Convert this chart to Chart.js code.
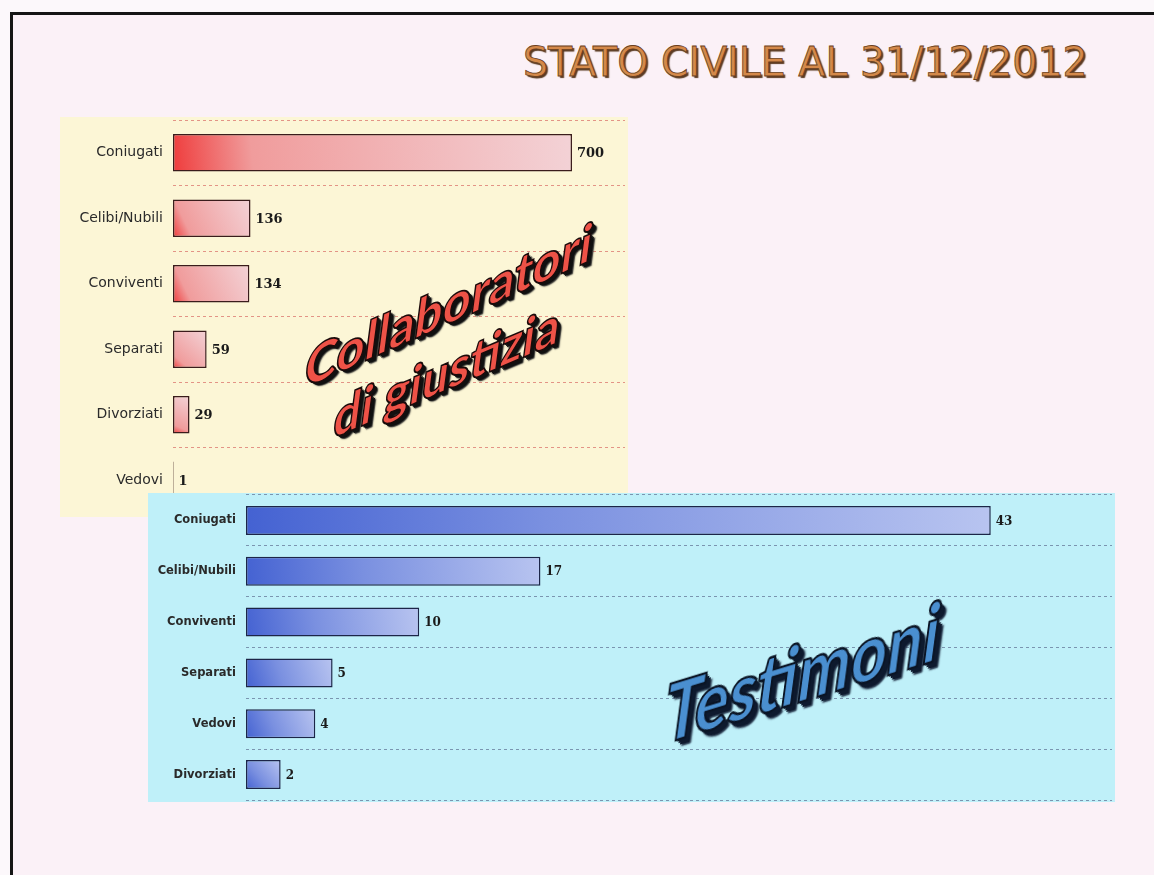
<!DOCTYPE html>
<html>
<head>
<meta charset="utf-8">
<script src="https://cdn.jsdelivr.net/npm/chart.js@4.4.0/dist/chart.umd.min.js"></script>
<style>
  html, body { margin: 0; padding: 0; }
  body { width: 1154px; height: 875px; overflow: hidden; background: #fcf8fb; position: relative; font-family: "DejaVu Sans", sans-serif; }
  #frame { position: absolute; left: 10px; top: 12px; width: 1150px; height: 870px; border-left: 3px solid #151515; border-top: 3px solid #151515; background: #fbf1f7; }
  .panel { position: absolute; }
  #p1 { left: 60px; top: 117px; width: 568px; height: 400px; background: #fcf6d6; z-index: 1; }
  #p2 { left: 148px; top: 493px; width: 967px; height: 309px; background: #bff0f9; z-index: 2; }
  #title { position: absolute; left: 523px; top: 42px; font-size: 40px; line-height: 1; white-space: nowrap;
           color: #d4894a; -webkit-text-stroke: 0.8px #6b4020; text-shadow: 2px 2px 1px #5a3a22; transform-origin: 0 0; z-index: 3; }
  .wa { position: absolute; white-space: nowrap; line-height: 1; font-family: Lato, "DejaVu Sans", sans-serif; font-weight: 900; font-size: 38px; z-index: 5; }
  .red { color: #ee5247; -webkit-text-stroke: 1.2px #1a0a0a; text-shadow: 1px 1px 0 #111, 2px 2px 0 #111, 3px 3px 0 #111, 4px 4px 1px #222; }
  .blue { color: #4a8fd0; -webkit-text-stroke: 1.2px #0a1424; text-shadow: 1px 1px 0 #0e1a2e, 2px 2px 0 #0e1a2e, 3px 3px 0 #0e1a2e, 4px 4px 1px #1c2a40; }
</style>
</head>
<body>
<div id="frame"></div>
<div id="title">STATO CIVILE AL 31/12/2012</div>
<div class="panel" id="p1"><canvas id="chartCollab"></canvas></div>
<div class="panel" id="p2"><canvas id="chartTest"></canvas></div>
<div class="wa red" id="wa1">Collaboratori</div>
<div class="wa red" id="wa2">di giustizia</div>
<div class="wa blue" id="wa3">Testimoni</div>
<script>
// collaboratori di giustizia
const collabLabels = ["Coniugati", "Celibi/Nubili", "Conviventi", "Separati", "Divorziati", "Vedovi"];
const collabValues = [700, 136, 134, 59, 29, 1];

// testimoni
const testLabels = ["Coniugati", "Celibi/Nubili", "Conviventi", "Separati", "Vedovi", "Divorziati"];
const testValues = [43, 17, 10, 5, 4, 2];

const BAR_PCT = 0.57;

const valueLabels = {
    id: "valueLabels",
    afterDatasetsDraw(chart, args, opts) {
        const ctx = chart.ctx;
        const meta = chart.getDatasetMeta(0);
        const data = chart.data.datasets[0].data;
        ctx.save();
        ctx.font = opts.font;
        ctx.fillStyle = opts.color;
        ctx.textBaseline = "middle";
        ctx.textAlign = "left";
        meta.data.forEach(function(bar, i) {
            ctx.fillText(data[i], bar.x + 5, bar.y + 1);
        });
        ctx.restore();
    }
};

function barGradient(stops) {
    return function(c) {
        const chart = c.chart;
        const xs = chart.scales.x, ys = chart.scales.y;
        if (c.type !== "data" || !xs || !ys || !chart.chartArea) return stops[1][1];
        const x0 = xs.getPixelForValue(0);
        const x1 = Math.max(xs.getPixelForValue(c.raw), x0 + 1);
        const cy = ys.getPixelForValue(c.dataIndex);
        const half = ys.height / chart.data.labels.length * BAR_PCT / 2;
        const g = chart.ctx.createLinearGradient(x0, cy + half, x1, cy - half);
        stops.forEach(function(s) { g.addColorStop(s[0], s[1]); });
        return g;
    };
}

function graficar(id, labels, values, cfg) {
    return new Chart(document.getElementById(id), {
        type: "bar",
        data: {
            labels: labels,
            datasets: [{
                data: values,
                backgroundColor: barGradient(cfg.stops),
                borderColor: cfg.border,
                borderWidth: 1.5,
                borderSkipped: false,
                barPercentage: BAR_PCT,
                categoryPercentage: 1
            }]
        },
        options: {
            indexAxis: "y",
            responsive: true,
            maintainAspectRatio: false,
            animation: false,
            layout: { padding: cfg.padding },
            plugins: {
                legend: { display: false },
                tooltip: { enabled: false },
                valueLabels: { font: cfg.valueFont, color: "#1a1a1a" }
            },
            scales: {
                x: { display: false, min: 0, max: cfg.max, grid: { display: false } },
                y: {
                    afterFit: function(s) {
                        s.width = cfg.axisWidth;
                        s.paddingTop = 0;
                        s.paddingBottom = 0;
                    },
                    border: { display: false, dash: [3, 3] },
                    grid: { color: cfg.gridColor, lineWidth: 1, drawTicks: false },
                    ticks: { padding: 10, color: "#2a2a2a", font: cfg.tickFont }
                }
            }
        },
        plugins: [valueLabels]
    });
}

graficar("chartCollab", collabLabels, collabValues, {
    max: 793,
    axisWidth: 113,
    padding: { top: 3, right: 3, bottom: 4, left: 0 },
    gridColor: "#e39486",
    border: "#3a1c1c",
    stops: [[0, "#ef3c3c"], [0.2, "#f09c9c"], [1, "#f3d2d6"]],
    tickFont: { family: "DejaVu Sans", size: 14 },
    valueFont: "bold 13px 'DejaVu Serif'"
});

graficar("chartTest", testLabels, testValues, {
    max: 50,
    axisWidth: 98,
    padding: { top: 2, right: 3, bottom: 2, left: 0 },
    gridColor: "#7a95b0",
    border: "#1c2548",
    stops: [[0, "#4462d2"], [0.4, "#7a90e0"], [1, "#b8c4f0"]],
    tickFont: { family: "DejaVu Sans", size: 11.5, weight: "bold" },
    valueFont: "bold 12px 'DejaVu Serif'"
});

// title and wordart text, fitted to the reference boxes
const title = document.getElementById("title");
title.style.transform = "scaleX(" + (565 / title.offsetWidth) + ")";

function placeArt(id, left, baseline, width, capPx, angle, lean) {
    const el = document.getElementById(id);
    const fs = parseFloat(getComputedStyle(el).fontSize);
    el.style.left = left + "px";
    el.style.top = (baseline - 0.846 * fs) + "px";
    el.style.transformOrigin = "0 " + (0.846 * fs) + "px";
    const sx = width / el.offsetWidth;
    const sy = capPx / (0.73 * fs);
    el.style.transform = "skewY(" + angle + "deg) skewX(" + lean + "deg) scale(" + sx + "," + sy + ")";
}
placeArt("wa1", 303, 386, 288, 38, -24, -8);
placeArt("wa2", 332, 436, 226, 38, -23, -8);
placeArt("wa3", 662, 740, 275, 58, -17, -8);
</script>
</body>
</html>
